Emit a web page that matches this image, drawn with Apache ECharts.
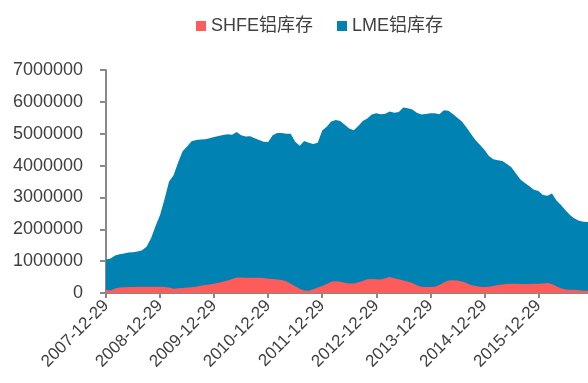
<!DOCTYPE html>
<html>
<head>
<meta charset="utf-8">
<script src="https://cdn.jsdelivr.net/npm/echarts@6/dist/echarts.min.js"></script>
<style>
  html, body { margin: 0; padding: 0; background: #fff; }
  #chart { width: 588px; height: 383px; }
</style>
</head>
<body>
<div id="chart"></div>
<script>
// 月度日期标签，从 2007-12 开始，共 108 个月
const categories = [];
for (let i = 0; i < 108; i++) {
  const m = (11 + i) % 12 + 1;
  const y = 2007 + Math.floor((11 + i) / 12);
  categories.push(y + '-' + (m < 10 ? '0' + m : m) + '-29');
}

// LME铝库存（吨）
const lmeStock = [
  1050000, 1080000, 1180000, 1220000, 1240000, 1270000, 1280000, 1300000, 1340000, 1450000, 1720000, 2100000,
  2450000, 2950000, 3500000, 3700000, 4100000, 4450000, 4600000, 4760000, 4800000, 4820000, 4830000, 4860000,
  4900000, 4930000, 4960000, 4980000, 4970000, 5050000, 4950000, 4910000, 4920000, 4860000, 4800000, 4750000,
  4740000, 4950000, 5020000, 5020000, 5000000, 5000000, 4750000, 4620000, 4770000, 4720000, 4680000, 4720000,
  5100000, 5220000, 5380000, 5430000, 5400000, 5280000, 5160000, 5110000, 5240000, 5400000, 5480000, 5600000,
  5640000, 5610000, 5630000, 5700000, 5660000, 5680000, 5820000, 5800000, 5760000, 5660000, 5600000, 5620000,
  5640000, 5640000, 5610000, 5740000, 5720000, 5620000, 5500000, 5380000, 5200000, 5000000, 4800000, 4650000,
  4500000, 4300000, 4200000, 4170000, 4140000, 4050000, 3950000, 3750000, 3560000, 3450000, 3350000, 3240000,
  3200000, 3080000, 3050000, 3120000, 2900000, 2760000, 2600000, 2450000, 2340000, 2270000, 2240000, 2230000
];

// SHFE铝库存（吨）
const shfeStock = [
  100000, 80000, 140000, 170000, 180000, 190000, 190000, 200000, 200000, 200000, 200000, 200000,
  200000, 190000, 170000, 130000, 150000, 160000, 170000, 180000, 200000, 230000, 250000, 270000,
  290000, 320000, 360000, 390000, 440000, 490000, 490000, 480000, 480000, 480000, 480000, 470000,
  450000, 440000, 420000, 410000, 370000, 290000, 210000, 130000, 80000, 70000, 120000, 170000,
  220000, 280000, 350000, 370000, 350000, 320000, 300000, 300000, 340000, 380000, 430000, 440000,
  430000, 420000, 460000, 500000, 460000, 430000, 390000, 360000, 310000, 240000, 200000, 190000,
  190000, 200000, 250000, 330000, 390000, 400000, 390000, 360000, 310000, 250000, 220000, 200000,
  190000, 200000, 220000, 250000, 270000, 290000, 290000, 290000, 280000, 280000, 280000, 290000,
  290000, 300000, 310000, 280000, 210000, 150000, 110000, 100000, 100000, 90000, 70000, 70000
];

const yTicks = [0, 1000000, 2000000, 3000000, 4000000, 5000000, 6000000, 7000000];

const chart = echarts.init(document.getElementById('chart'));
const textColor = '#404040';
const axisColor = '#898989';

chart.setOption({
  animation: false,
  textStyle: { fontFamily: 'Liberation Sans, Arial, Noto Sans CJK SC, sans-serif' },
  legend: {
    top: 12,
    left: 191,
    itemWidth: 10,
    itemHeight: 10,
    itemGap: 24,
    icon: 'rect',
    data: ['SHFE铝库存', 'LME铝库存'],
    textStyle: { fontSize: 18, color: textColor }
  },
  grid: { left: 106, right: 0, top: 70, bottom: 90 },
  xAxis: {
    type: 'category',
    boundaryGap: false,
    data: categories,
    axisLine: { lineStyle: { color: axisColor, width: 2 } },
    axisTick: { interval: 11, length: 5, lineStyle: { color: axisColor, width: 2 } },
    axisLabel: { interval: 11, rotate: 45, fontSize: 17, color: textColor, margin: 10 },
    splitLine: { show: false }
  },
  yAxis: {
    type: 'value',
    min: yTicks[0],
    max: yTicks[yTicks.length - 1],
    interval: 1000000,
    axisLine: { show: true, lineStyle: { color: axisColor, width: 2 } },
    axisTick: { show: true, length: 6, lineStyle: { color: axisColor, width: 2 } },
    axisLabel: { fontSize: 18, color: textColor, margin: 23, formatter: v => String(v) },
    splitLine: { show: false }
  },
  series: [
    {
      name: 'LME铝库存',
      type: 'line',
      data: lmeStock,
      symbol: 'none',
      lineStyle: { width: 0 },
      itemStyle: { color: '#0082B3' },
      areaStyle: { color: '#0082B3', opacity: 1 },
      z: 1
    },
    {
      name: 'SHFE铝库存',
      type: 'line',
      data: shfeStock,
      symbol: 'none',
      lineStyle: { width: 0 },
      itemStyle: { color: '#FF5B5B' },
      areaStyle: { color: '#FF5B5B', opacity: 1 },
      z: 2
    }
  ]
});
</script>
</body>
</html>
